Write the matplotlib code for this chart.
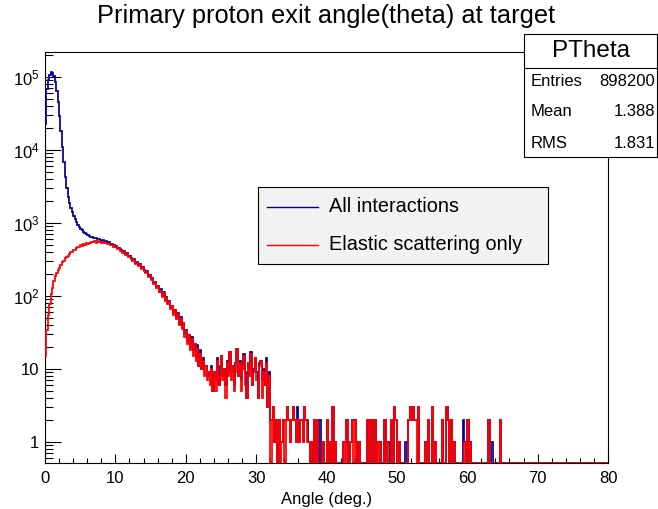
import numpy as np
import matplotlib.pyplot as plt
from matplotlib.patches import Rectangle
from matplotlib.lines import Line2D
from matplotlib.ticker import MultipleLocator, LogLocator, FuncFormatter, NullFormatter

plt.rcParams['font.family'] = ['Liberation Sans', 'DejaVu Sans']
plt.rcParams['mathtext.fontset'] = 'custom'
plt.rcParams['mathtext.rm'] = 'Liberation Sans'
plt.rcParams['mathtext.default'] = 'regular'

# histogram: 400 bins of 0.2 deg between 0 and 80 deg
x_min, x_max, n_bins = 0.0, 80.0, 400

# elastic scattering counts, bins from 0 to 32 deg (10 bins per row = 2 deg)
elastic_core = [
    15, 34, 55, 78, 105, 128, 160, 185, 205, 228,
    245, 262, 290, 300, 330, 345, 352, 380, 395, 402,
    425, 431, 455, 462, 470, 495, 480, 512, 505, 530,
    518, 540, 528, 552, 545, 560, 538, 565, 548, 552,
    540, 548, 525, 532, 510, 515, 492, 498, 475, 480,
    462, 440, 445, 418, 410, 392, 395, 360, 372, 338,
    340, 318, 305, 312, 275, 285, 255, 262, 232, 240,
    220, 206, 212, 182, 190, 165, 170, 145, 152, 128,
    135, 112, 118, 98, 110, 86, 95, 78, 84, 66,
    72, 55, 64, 48, 56, 40, 49, 35, 42, 27,
    33, 22, 29, 18, 26, 15, 22, 13, 19, 11,
    16, 10, 13, 8, 11, 7, 9, 6, 10, 5,
    9, 5, 13, 6, 8, 15, 7, 10, 4, 12,
    8, 17, 7, 11, 5, 9, 19, 8, 12, 5,
    10, 15, 6, 4, 12, 8, 16, 6, 9, 14,
    7, 4, 11, 13, 4, 9, 6, 12, 3, 8,
]

# the other (non elastic) interactions in the same bins
other_core = [
    22985, 67966, 91945, 107922, 115895, 113872, 103840, 84815, 63795, 44772,
    28755, 17738, 10710, 6500, 3970, 2655, 1948, 1520, 1205, 998,
    825, 689, 565, 488, 410, 335, 310, 248, 225, 170,
    162, 125, 122, 88, 85, 60, 77, 40, 47, 33,
    30, 28, 25, 30, 22, 26, 20, 24, 18, 21,
    17, 20, 15, 18, 14, 16, 12, 15, 11, 13,
    10, 12, 9, 11, 8, 10, 7, 9, 6, 8,
    6, 7, 5, 6, 4, 6, 4, 5, 3, 5,
    4, 3, 5, 2, 4, 3, 2, 4, 2, 3,
    2, 3, 1, 3, 2, 1, 2, 2, 1, 3,
    1, 2, 0, 2, 1, 3, 0, 1, 2, 0,
    2, 0, 1, 3, 0, 1, 0, 2, 1, 0,
    0, 2, 1, 0, 3, 0, 1, 0, 2, 1,
    1, 0, 2, 0, 1, 3, 0, 0, 1, 2,
    0, 1, 3, 0, 0, 2, 1, 0, 1, 0,
    2, 0, 1, 0, 3, 1, 0, 2, 0, 1,
]

# sparse tail above 32 deg: bin centres and counts
elastic_tail_angle = [32.3, 32.5, 32.7, 32.9, 33.3, 33.7, 33.9, 34.3, 34.5, 34.7,
                      34.9, 35.1, 35.3, 35.5, 35.7, 35.9, 36.1, 36.3, 36.5, 36.7,
                      36.9, 37.1, 37.3, 37.5, 37.9, 38.3, 38.7, 39.5, 40.1, 40.5,
                      40.9, 41.3, 42.5, 42.9, 43.5, 43.7, 44.1, 44.3, 44.7, 45.9,
                      46.3, 46.9, 47.3, 47.7, 48.3, 48.7, 49.3, 49.7, 49.9, 50.3,
                      51.7, 51.9, 52.1, 52.3, 52.5, 52.7, 53.1, 54.1, 54.5, 55.1,
                      55.5, 56.5, 57.1, 57.3, 57.7, 58.1, 59.7, 60.1, 60.5, 63.1,
                      64.7]
elastic_tail_count = [2, 3, 1, 2, 2, 1, 2, 2, 3, 2,
                      1, 2, 3, 2, 1, 2, 1, 2, 2, 1,
                      3, 2, 1, 1, 1, 2, 2, 1, 2, 1,
                      3, 1, 1, 2, 1, 2, 2, 1, 1, 2,
                      2, 2, 1, 1, 2, 1, 2, 3, 2, 1,
                      2, 3, 2, 3, 2, 2, 3, 1, 2, 3,
                      1, 2, 3, 2, 2, 1, 1, 2, 1, 2,
                      2]
other_tail_angle = [32.1, 33.5, 34.1, 35.9, 37.3, 39.1, 42.7, 43.9, 47.5, 48.9,
                    51.3, 52.9, 59.5, 63.5]
other_tail_count = [2, 1, 2, 1, 1, 2, 1, 2, 1, 1, 1, 2, 2, 1]

stat_entries = '898200'
stat_mean = '1.388'
stat_rms = '1.831'

edges = np.linspace(x_min, x_max, n_bins + 1)
width = edges[1] - edges[0]

elastic = np.zeros(n_bins)
elastic[:len(elastic_core)] = elastic_core
elastic[np.round((np.array(elastic_tail_angle) - width / 2) / width).astype(int)] += elastic_tail_count

other = np.zeros(n_bins)
other[:len(other_core)] = other_core
other[np.round((np.array(other_tail_angle) - width / 2) / width).astype(int)] += other_tail_count

all_int = elastic + other

y_lo, y_hi = 0.515, 2.2e5
blue = '#000099'
red = '#ff0000'

W, H = 658, 509
fig = plt.figure(figsize=(W / 100, H / 100), dpi=100)
ax = fig.add_axes([45 / W, 1 - 463 / H, (608 - 45) / W, (463 - 52) / H])

# empty bins are drawn on the frame bottom, as ROOT does
ax.stairs(np.where(all_int > 0, all_int, y_lo), edges, baseline=None,
          color=blue, lw=1.25, zorder=3)
ax.stairs(np.where(elastic > 0, elastic, y_lo), edges, baseline=None,
          color=red, lw=1.25, zorder=3)

ax.set_yscale('log')
ax.set_xlim(x_min, x_max)
ax.set_ylim(y_lo, y_hi)

ax.xaxis.set_major_locator(MultipleLocator(10))
ax.xaxis.set_minor_locator(MultipleLocator(2))
ax.yaxis.set_major_locator(LogLocator(base=10))
ax.yaxis.set_minor_locator(LogLocator(base=10, subs=np.arange(2, 10)))
ax.yaxis.set_minor_formatter(NullFormatter())


def fmt_log(v, pos):
    n = int(round(np.log10(v)))
    if n == 0:
        return '1'
    if n == 1:
        return '10'
    return '$10^{%d}$' % n


ax.yaxis.set_major_formatter(FuncFormatter(fmt_log))

ax.tick_params(axis='both', which='both', direction='in', top=False, right=False,
               labelsize=12, width=0.8, color='black')
ax.tick_params(axis='x', which='major', length=6.5, pad=6)
ax.tick_params(axis='x', which='minor', length=3.3)
ax.tick_params(axis='y', which='major', length=11.5, pad=4)
ax.tick_params(axis='y', which='minor', length=5.8)
for s in ax.spines.values():
    s.set_linewidth(0.8)

ax.set_xlabel('Angle (deg.)', fontsize=12, labelpad=4)

fig.text(326 / W, 1 - 16 / H, 'Primary proton exit angle(theta) at target',
         fontsize=18.3, ha='center', va='center')

# legend box
lx0, lx1, ly0, ly1 = 258, 548, 187, 264
fig.add_artist(Rectangle((lx0 / W, 1 - ly1 / H), (lx1 - lx0) / W, (ly1 - ly0) / H,
                         transform=fig.transFigure, facecolor='#f2f2f2',
                         edgecolor='black', lw=0.8, zorder=5))
for yy, col, label in [(207, blue, 'All interactions'), (245, red, 'Elastic scattering only')]:
    fig.add_artist(Line2D([267 / W, 318 / W], [1 - yy / H, 1 - yy / H],
                          transform=fig.transFigure, color=col, lw=1.0, zorder=6))
    fig.text(329 / W, 1 - yy / H, label, fontsize=14.3, ha='left', va='center', zorder=7)

# stats box
sx0, sx1, sy0, sy1 = 524, 657, 34, 157
fig.add_artist(Rectangle((sx0 / W, 1 - sy1 / H), (sx1 - sx0) / W, (sy1 - sy0) / H,
                         transform=fig.transFigure, facecolor='white',
                         edgecolor='black', lw=0.8, zorder=5))
fig.add_artist(Line2D([sx0 / W, sx1 / W], [1 - 68 / H, 1 - 68 / H],
                      transform=fig.transFigure, color='black', lw=0.8, zorder=6))
fig.text((sx0 + sx1) / 2 / W, 1 - 51 / H, 'PTheta', fontsize=17.5,
         ha='center', va='center', zorder=7)
for yy, name, val in [(81, 'Entries', stat_entries), (111, 'Mean', stat_mean),
                      (143, 'RMS', stat_rms)]:
    fig.text(531 / W, 1 - yy / H, name, fontsize=12, ha='left', va='center', zorder=7)
    fig.text(655 / W, 1 - yy / H, val, fontsize=12, ha='right', va='center', zorder=7)

fig.savefig('out.png', dpi=100)
